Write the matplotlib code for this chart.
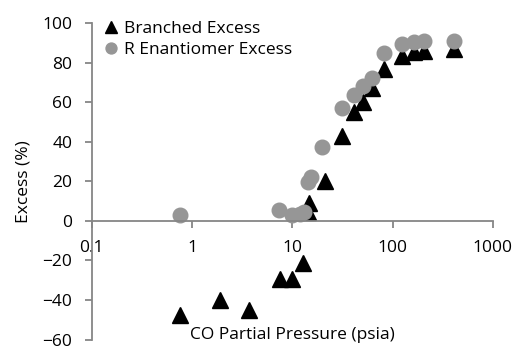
import numpy as np
import matplotlib
matplotlib.use("Agg")
import matplotlib.pyplot as plt

plt.rcParams['font.family'] = ['Open Sans', 'DejaVu Sans']

# Branched excess (triangles)
branched_p = [0.76, 1.9, 3.7, 7.6, 10, 12.9, 14.2, 14.8, 21, 31, 41, 51, 63, 82, 123, 162, 208, 407]
branched_ex = [-47.5, -40, -45, -29.5, -29.5, -21.5, 4.5, 9, 20, 43, 55, 60, 67, 77, 83.5, 85.5, 86, 87]

# R enantiomer excess (circles)
r_p = [0.76, 7.4, 10, 12, 13, 14.5, 15.5, 20, 31, 41, 51, 62, 82, 123, 162, 205, 407]
r_ex = [3, 5.5, 3, 3.5, 4.5, 19.5, 22, 37.5, 57, 63.5, 68, 72, 85, 89.5, 90.5, 91, 91]

fig = plt.figure(figsize=(5.16, 3.5), dpi=100)
ax = fig.add_axes([0.178, 0.03, 0.777, 0.904])

ax.plot(branched_p, branched_ex, linestyle='none', marker='^', markersize=11,
        color='black', label='Branched Excess')
ax.plot(r_p, r_ex, linestyle='none', marker='o', markersize=10.5,
        color='#969696', label='R Enantiomer Excess')

ax.set_xscale('log')
ax.set_xlim(0.1, 1000)
ax.set_ylim(-60, 100)
ax.set_yticks(np.arange(-60, 101, 20))
ax.set_xticks([0.1, 1, 10, 100, 1000])
ax.set_xticklabels(['0.1', '1', '10', '100', '1000'])
ax.minorticks_off()

spine_col = '#868686'
ax.spines['top'].set_visible(False)
ax.spines['right'].set_visible(False)
ax.spines['bottom'].set_position(('data', 0))
for s in ['left', 'bottom']:
    ax.spines[s].set_color(spine_col)
    ax.spines[s].set_linewidth(1.3)

ax.tick_params(axis='both', colors=spine_col, labelcolor='black', labelsize=12.5,
               length=5, width=1.3, pad=9)

ax.text(0.5, -0.012, 'CO Partial Pressure (psia)', transform=ax.transAxes,
        ha='center', va='bottom', fontsize=12.5)
ax.set_ylabel('Excess (%)', fontsize=12.5, labelpad=8)

leg = ax.legend(loc='upper left', frameon=False, fontsize=12.5, handlelength=0.8,
                handletextpad=0.3, borderaxespad=0.1, labelspacing=0.3,
                markerscale=0.75, bbox_to_anchor=(0.01, 1.035))

fig.savefig('out.png', dpi=100)
